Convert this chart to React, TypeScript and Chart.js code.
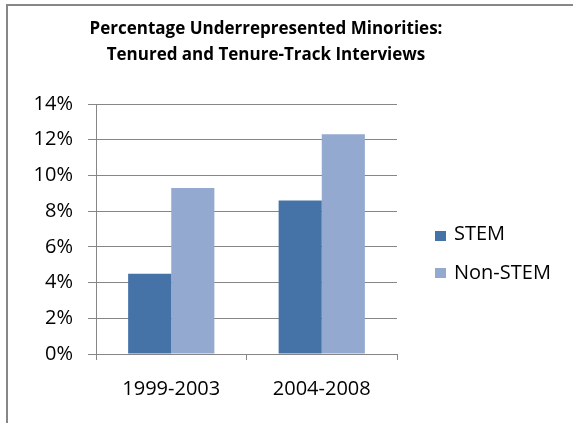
import React, { useEffect, useRef } from "react";
import { Chart, registerables } from "chart.js";

Chart.register(...registerables);

const categories = ["1999-2003", "2004-2008"];
const stemValues = [4.5, 8.6];
const nonStemValues = [9.3, 12.3];
const seriesNames = ["STEM", "Non-STEM"];
const seriesColors = ["#4572A7", "#93A9CF"];
const titleLines = [
  "Percentage Underrepresented Minorities:",
  "Tenured and Tenure-Track Interviews",
];
const yMax = 14;
const yStep = 2;

const FONT = '"Open Sans", "Liberation Sans", sans-serif';
const GRID = "#868686";

// Frame, centered title and side legend drawn on the canvas itself
const decorations = {
  id: "decorations",
  beforeDraw(chart: any) {
    const ctx = chart.ctx;
    ctx.save();
    ctx.fillStyle = "#ffffff";
    ctx.fillRect(0, 0, chart.width, chart.height);
    ctx.fillStyle = "#878787";
    ctx.fillRect(6, 4, chart.width - 6, 2);
    ctx.fillRect(6, 4, 2, chart.height - 4);
    ctx.restore();
  },
  afterDraw(chart: any) {
    const ctx = chart.ctx;
    ctx.save();
    ctx.fillStyle = "#000000";
    ctx.textAlign = "center";
    ctx.textBaseline = "alphabetic";
    ctx.font = `bold 17px ${FONT}`;
    titleLines.forEach((line, i) => ctx.fillText(line, 266, 33.5 + i * 26));

    ctx.textAlign = "left";
    ctx.font = `20px ${FONT}`;
    chart.data.datasets.forEach((ds: any, i: number) => {
      ctx.fillStyle = ds.backgroundColor;
      ctx.fillRect(435, 231 + i * 37, 11, 10);
      ctx.fillStyle = "#000000";
      ctx.fillText(ds.label, 454, 239.5 + i * 39.5);
    });
    ctx.restore();
  },
};

export default function App() {
  const canvasRef = useRef<HTMLCanvasElement | null>(null);

  useEffect(() => {
    const canvas = canvasRef.current;
    if (!canvas) return;
    const chart = new Chart(canvas, {
      type: "bar",
      data: {
        labels: categories,
        datasets: [
          { label: seriesNames[0], data: stemValues, backgroundColor: seriesColors[0] },
          { label: seriesNames[1], data: nonStemValues, backgroundColor: seriesColors[1] },
        ],
      },
      options: {
        animation: false,
        responsive: false,
        devicePixelRatio: 1,
        layout: { padding: { left: 0, top: 104, right: 176, bottom: 0 } },
        datasets: { bar: { categoryPercentage: 0.573, barPercentage: 1, borderWidth: 0 } },
        plugins: {
          legend: { display: false },
          title: { display: false },
          tooltip: { enabled: false },
        },
        scales: {
          x: {
            grid: {
              drawOnChartArea: false,
              drawTicks: true,
              tickLength: 6,
              color: GRID,
              offset: true,
            },
            border: { color: GRID },
            ticks: { color: "#000000", font: { family: FONT, size: 20 }, padding: 17 },
            afterFit: (scale: any) => {
              scale.height = 69;
            },
          },
          y: {
            min: 0,
            max: yMax,
            grid: { color: GRID, tickLength: 8 },
            border: { color: GRID },
            ticks: {
              stepSize: yStep,
              color: "#000000",
              font: { family: FONT, size: 20 },
              padding: 15,
              callback: (v: any) => `${v}%`,
            },
            afterFit: (scale: any) => {
              scale.width = 96;
            },
          },
        },
      },
      plugins: [decorations],
    });
    return () => chart.destroy();
  }, []);

  return (
    <div style={{ position: "fixed", left: 0, top: 0, width: 573, height: 423 }}>
      <canvas ref={canvasRef} width={573} height={423} />
    </div>
  );
}
